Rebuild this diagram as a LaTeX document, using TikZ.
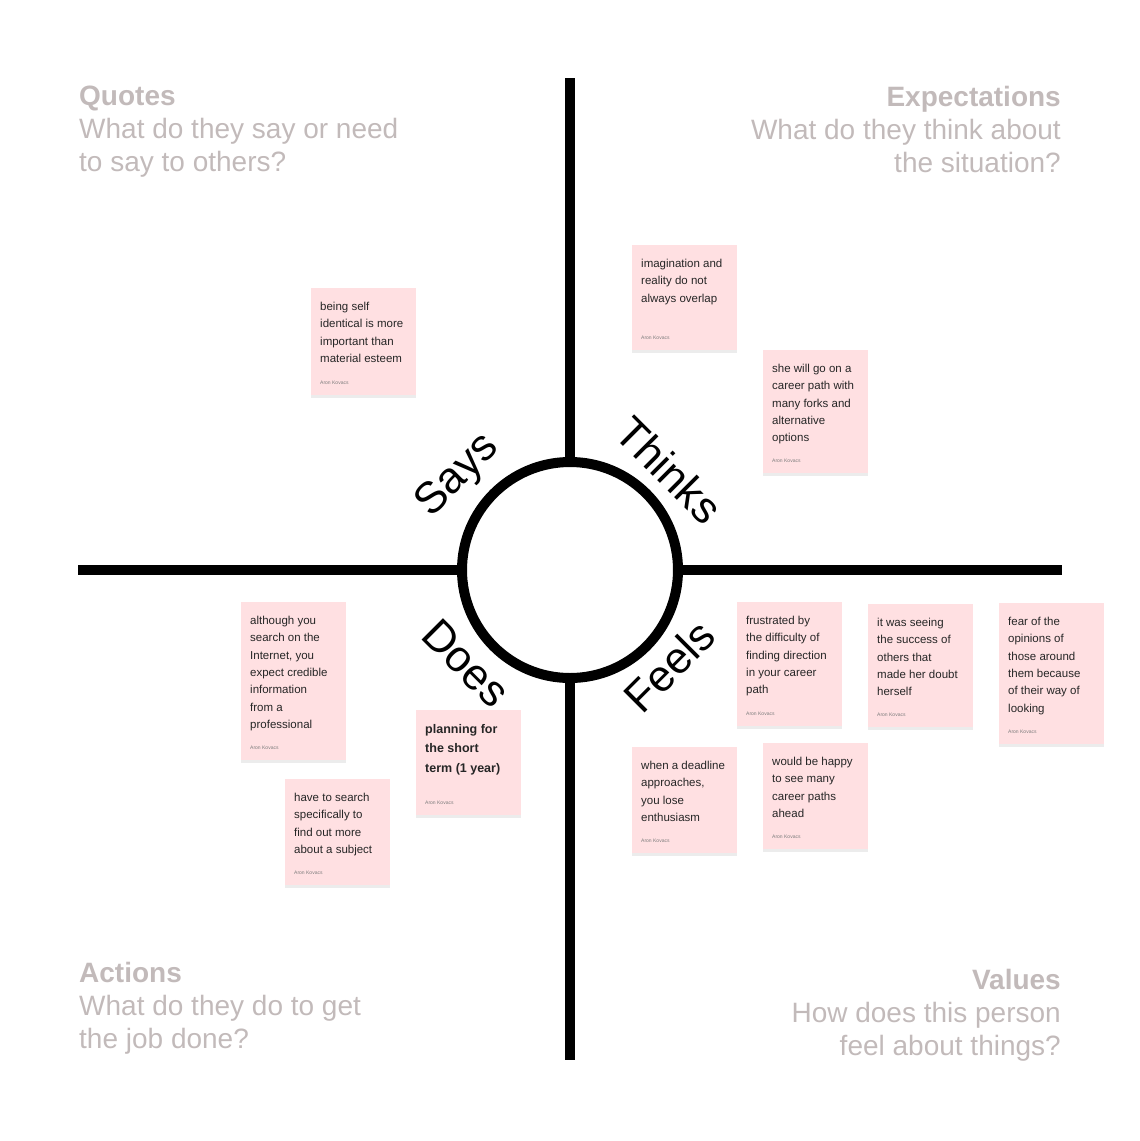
\documentclass[tikz,border=0pt]{standalone}
\usepackage{fontspec}
\setmainfont{Liberation Sans}
\usetikzlibrary{positioning,shadows}
\definecolor{notepink}{RGB}{255,224,226}
\definecolor{headgray}{RGB}{194,186,186}
\definecolor{authorgray}{RGB}{125,125,125}
\tikzset{
  axis/.style={line width=10pt},
  note/.style={fill=notepink, minimum width=105pt, anchor=north west, inner sep=0pt,
    drop shadow={opacity=0.15, shadow xshift=0pt, shadow yshift=-3pt}},
  notetext/.style={anchor=north west, inner sep=0pt, align=left, text=black!85,
    font=\fontsize{11.5}{17.3}\selectfont},
  boldtext/.style={notetext, font=\fontsize{12.5}{19.5}\selectfont\bfseries},
  author/.style={inner sep=0pt, text=authorgray, font=\fontsize{5}{6}\selectfont},
  heading/.style={inner sep=0pt, text=headgray, font=\fontsize{28}{33}\selectfont},
  word/.style={inner sep=0pt, font=\fontsize{44}{46}\selectfont}
}
\begin{document}
\begin{tikzpicture}[x=1pt,y=-1pt]
    \useasboundingbox (0,0) rectangle (1140,1141);
    % cross and hub
    \coordinate (top) at (570,78);
    \coordinate (bottom) at (570,1060);
    \coordinate (left) at (78,570);
    \coordinate (right) at (1062,570);
    \draw[axis] (top) -- (bottom);
    \draw[axis] (left) -- (right);
    \node[circle, draw, line width=10pt, fill=white, minimum size=216pt] (hub) at (570,570) {};
    \node[word, rotate=45] (says) at (458,476) {Says};
    \node[word, rotate=-45] (thinks) at (669,470) {Thinks};
    \node[word, rotate=-45] (does) at (466,663) {Does};
    \node[word, rotate=45] (feels) at (669,666) {Feels};
    % quadrant headings
    \node[heading, anchor=north west, align=left] (quotes) at (79,86) {\textbf{Quotes}\\What do they say or need\\to say to others?};
    \node[heading, anchor=north east, align=right] (expect) at (1061,86) {\textbf{Expectations}\\What do they think about\\the situation?};
    \node[heading, anchor=north west, align=left] (actions) at (79,962) {\textbf{Actions}\\What do they do to get\\the job done?};
    \node[heading, anchor=north east, align=right] (values) at (1061,969) {\textbf{Values}\\How does this person\\feel about things?};
    % says
    \node[note, minimum height=107pt] (says1) at (311,288) {};
    \node[notetext, below right=14pt and 9pt of says1.north west] (says1t) {being self\\identical is more\\important than\\material esteem};
    \node[author, above right=11pt and 9pt of says1.south west] (says1a) {Aron Kovacs};
    % thinks
    \node[note, minimum height=105pt] (thinks1) at (632,245) {};
    \node[notetext, below right=14pt and 9pt of thinks1.north west] (thinks1t) {imagination and\\reality do not\\always overlap};
    \node[author, above right=11pt and 9pt of thinks1.south west] (thinks1a) {Aron Kovacs};
    \node[note, minimum height=123pt] (thinks2) at (763,350) {};
    \node[notetext, below right=14pt and 9pt of thinks2.north west] (thinks2t) {she will go on a\\career path with\\many forks and\\alternative\\options};
    \node[author, above right=11pt and 9pt of thinks2.south west] (thinks2a) {Aron Kovacs};
    % does
    \node[note, minimum height=158pt] (does1) at (241,602) {};
    \node[notetext, below right=14pt and 9pt of does1.north west] (does1t) {although you\\search on the\\Internet, you\\expect credible\\information\\from a\\professional};
    \node[author, above right=11pt and 9pt of does1.south west] (does1a) {Aron Kovacs};
    \node[note, minimum height=106pt] (does2) at (285,779) {};
    \node[notetext, below right=14pt and 9pt of does2.north west] (does2t) {have to search\\specifically to\\find out more\\about a subject};
    \node[author, above right=11pt and 9pt of does2.south west] (does2a) {Aron Kovacs};
    \node[note, minimum height=105pt] (does3) at (416,710) {};
    \node[boldtext, below right=14pt and 9pt of does3.north west] (does3t) {planning for\\the short\\term (1 year)};
    \node[author, above right=11pt and 9pt of does3.south west] (does3a) {Aron Kovacs};
    % feels
    \node[note, minimum height=124pt] (feels1) at (737,602) {};
    \node[notetext, below right=14pt and 9pt of feels1.north west] (feels1t) {frustrated by\\the difficulty of\\finding direction\\in your career\\path};
    \node[author, above right=11pt and 9pt of feels1.south west] (feels1a) {Aron Kovacs};
    \node[note, minimum height=123pt] (feels2) at (868,604) {};
    \node[notetext, below right=14pt and 9pt of feels2.north west] (feels2t) {it was seeing\\the success of\\others that\\made her doubt\\herself};
    \node[author, above right=11pt and 9pt of feels2.south west] (feels2a) {Aron Kovacs};
    \node[note, minimum height=141pt] (feels3) at (999,603) {};
    \node[notetext, below right=14pt and 9pt of feels3.north west] (feels3t) {fear of the\\opinions of\\those around\\them because\\of their way of\\looking};
    \node[author, above right=11pt and 9pt of feels3.south west] (feels3a) {Aron Kovacs};
    \node[note, minimum height=106pt] (feels4) at (632,747) {};
    \node[notetext, below right=14pt and 9pt of feels4.north west] (feels4t) {when a deadline\\approaches,\\you lose\\enthusiasm};
    \node[author, above right=11pt and 9pt of feels4.south west] (feels4a) {Aron Kovacs};
    \node[note, minimum height=106pt] (feels5) at (763,743) {};
    \node[notetext, below right=14pt and 9pt of feels5.north west] (feels5t) {would be happy\\to see many\\career paths\\ahead};
    \node[author, above right=11pt and 9pt of feels5.south west] (feels5a) {Aron Kovacs};
\end{tikzpicture}
\end{document}
